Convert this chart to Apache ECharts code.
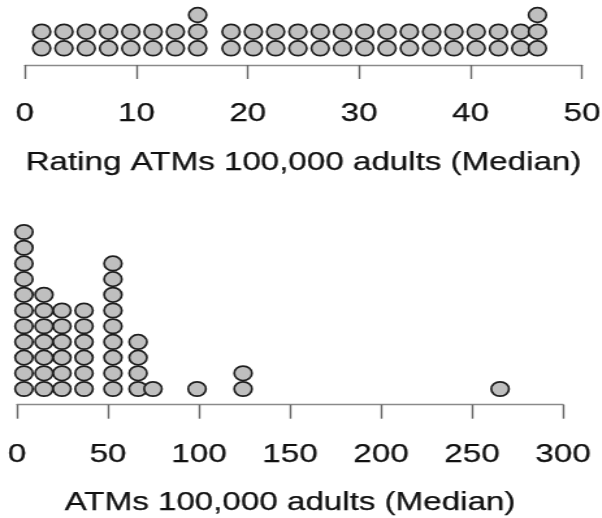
<!DOCTYPE html>
<html>
<head>
<meta charset="utf-8">
<script src="https://cdn.jsdelivr.net/npm/echarts@6/dist/echarts.min.js"></script>
<style>
html,body{margin:0;padding:0;overflow:hidden;background:#fff;}
#main{width:463px;height:518px;transform:scaleX(1.3);transform-origin:0 0;}
</style>
</head>
<body>
<div id="main"></div>
<script>
// Top dot plot: rating (bin centres and stack counts)
const ratingBins   = [1.5, 3.5, 5.5, 7.5, 9.5, 11.5, 13.5, 15.5, 18.5, 20.5, 22.5, 24.5, 26.5, 28.5, 30.5, 32.5, 34.5, 36.5, 38.5, 40.5, 42.5, 44.5, 46];
const ratingCounts = [2, 2, 2, 2, 2, 2, 2, 3, 2, 2, 2, 2, 2, 2, 2, 2, 2, 2, 2, 2, 2, 2, 3];
const ratingTicks  = [0, 10, 20, 30, 40, 50];
const ratingTitle  = 'Rating ATMs 100,000 adults (Median)';

// Bottom dot plot: ATMs per 100,000 adults
const atmBins   = [3.8, 14.8, 24.7, 36.8, 52.7, 66.5, 74.7, 98.9, 124.2, 265.4];
const atmCounts = [11, 7, 6, 6, 9, 4, 1, 1, 2, 1];
const atmTicks  = [0, 50, 100, 150, 200, 250, 300];
const atmTitle  = 'ATMs 100,000 adults (Median)';

function stack(bins, counts) {
  const out = [];
  bins.forEach((b, i) => { for (let k = 1; k <= counts[i]; k++) out.push([b, k]); });
  return out;
}

const FONT = '"Liberation Sans", Arial, sans-serif';
const textStyle = { fontSize: 25.5, color: '#111', fontFamily: FONT, textBorderColor: '#111', textBorderWidth: 0.25 };
function xAxisCfg(gridIndex, ticks, title, margin, gap) {
  return {
    type: 'value', gridIndex,
    min: ticks[0], max: ticks[ticks.length - 1], interval: ticks[1] - ticks[0],
    splitLine: { show: false },
    axisLine: { show: true, lineStyle: { color: '#8a8a8a', width: 1.4 } },
    axisTick: { show: true, inside: false, length: 14, lineStyle: { color: '#666', width: 1.4 } },
    axisLabel: Object.assign({ margin: margin, showMinLabel: true, showMaxLabel: true, hideOverlap: false }, textStyle),
    name: title, nameLocation: 'middle', nameGap: gap,
    nameTextStyle: Object.assign({}, textStyle)
  };
}
function yAxisCfg(gridIndex, min, max) {
  return { type: 'value', gridIndex, min, max, show: false, splitLine: { show: false } };
}
const dotStyle = { color: '#bfbfbf', borderColor: '#1e1e1e', borderWidth: 1.7, opacity: 1 };

const chart = echarts.init(document.getElementById('main'), null, { renderer: 'canvas' });
chart.setOption({
  animation: false,
  backgroundColor: '#fff',
  grid: [
    { left: 19.2, width: 428.5, top: 7, height: 67, containLabel: false, outerBoundsMode: 'none' },
    { left: 13.1, width: 420, top: 222, height: 194, containLabel: false, outerBoundsMode: 'none' }
  ],
  xAxis: [
    xAxisCfg(0, ratingTicks, ratingTitle, 27, 76),
    xAxisCfg(1, atmTicks, atmTitle, 26, 74)
  ],
  yAxis: [
    yAxisCfg(0, -0.54, 3.48),
    yAxisCfg(1, -0.72, 11.64)
  ],
  series: [
    { type: 'scatter', xAxisIndex: 0, yAxisIndex: 0, symbol: 'circle', symbolSize: [13.6, 14.8],
      itemStyle: dotStyle, silent: true, data: stack(ratingBins, ratingCounts) },
    { type: 'scatter', xAxisIndex: 1, yAxisIndex: 1, symbol: 'circle', symbolSize: [13.6, 14.4],
      itemStyle: dotStyle, silent: true, data: stack(atmBins, atmCounts) }
  ]
});
</script>
</body>
</html>
